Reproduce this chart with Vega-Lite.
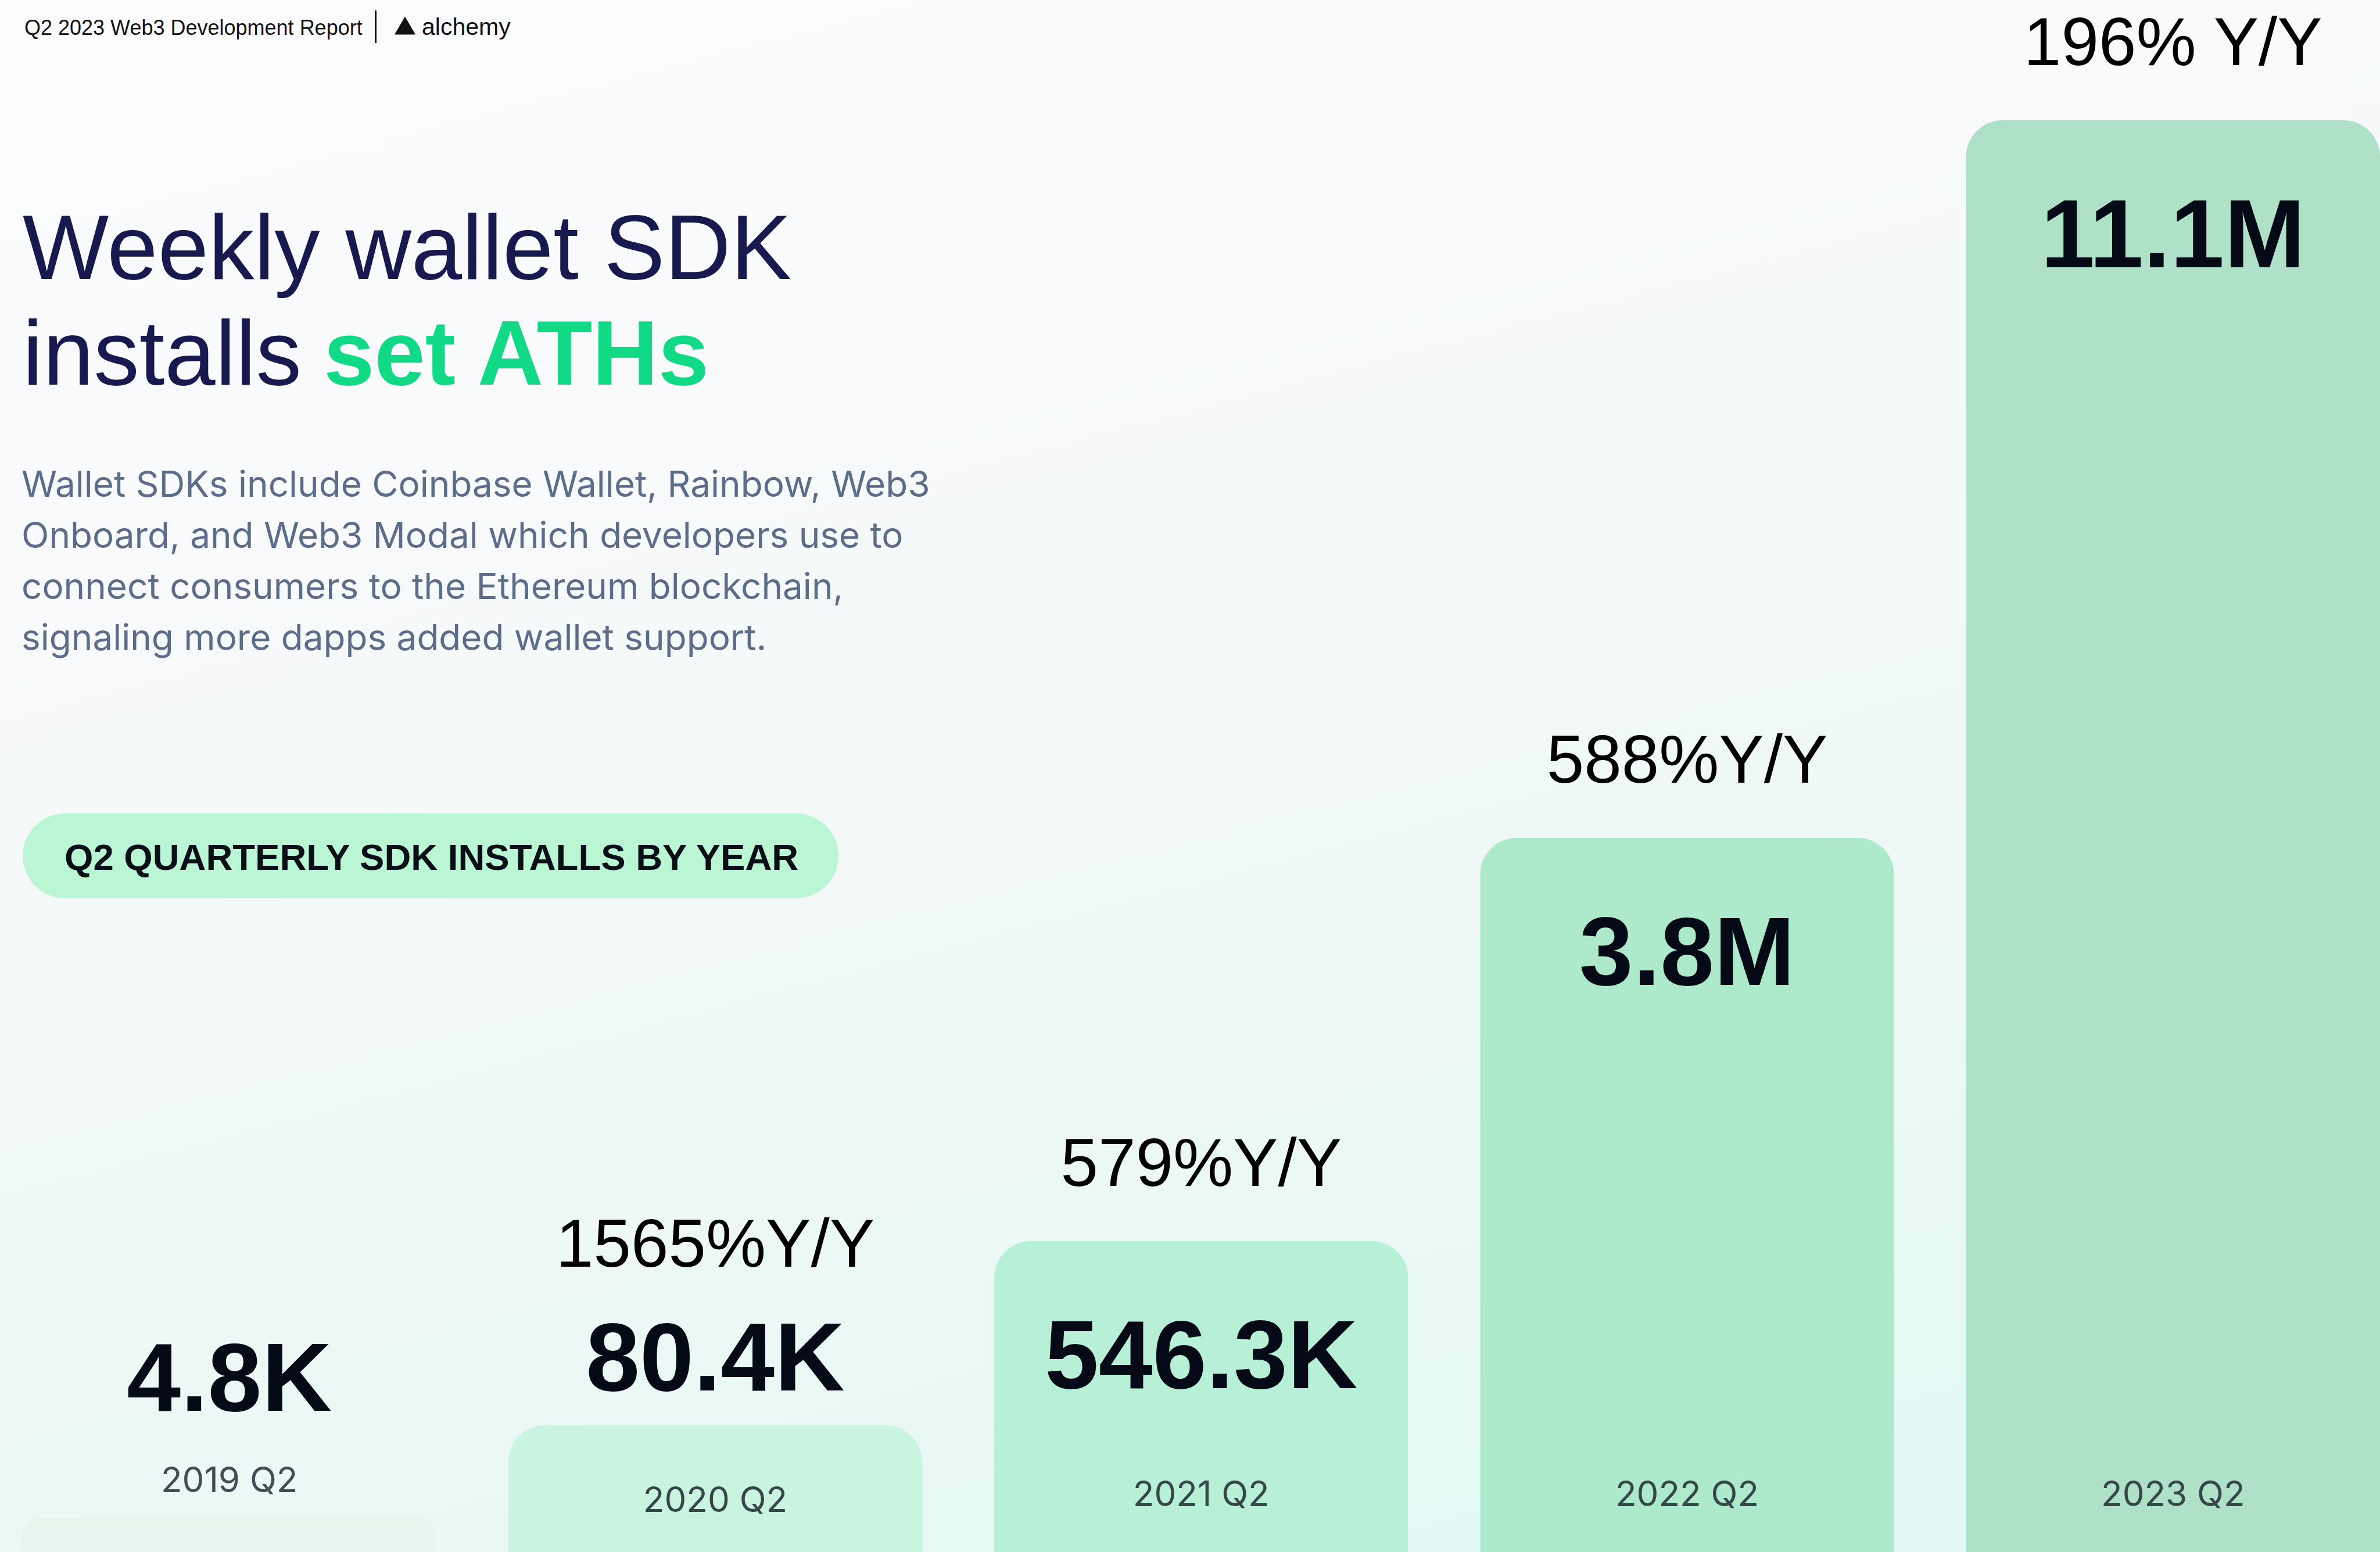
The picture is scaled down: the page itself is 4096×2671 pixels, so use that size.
{
  "$schema": "https://vega.github.io/schema/vega-lite/v6.json",
  "autosize": {"type": "fit", "contains": "padding"},
  "width": 4096,
  "height": 2671,
  "padding": 0,
  "background": "#F8FAFB",
  "config": {"view": {"stroke": null}},
  "data": {"values": [
    {"period": "2019 Q2", "installs": 4800, "label": "4.8K", "yoy": null},
    {"period": "2020 Q2", "installs": 80400, "label": "80.4K", "yoy": "1565%Y/Y"},
    {"period": "2021 Q2", "installs": 546300, "label": "546.3K", "yoy": "579%Y/Y"},
    {"period": "2022 Q2", "installs": 3800000, "label": "3.8M", "yoy": "588%Y/Y"},
    {"period": "2023 Q2", "installs": 11100000, "label": "11.1M", "yoy": "196% Y/Y"}
  ]},
  "layer": [
    {
      "data": {"values": [{}]},
      "mark": {"type": "rect", "color": {"gradient": "linear", "x1": 0.2, "y1": 0, "x2": 0.6, "y2": 1, "stops": [
        {"offset": 0, "color": "#FAFBFD"},
        {"offset": 0.3, "color": "#F7F9FA"},
        {"offset": 0.7, "color": "#EEF8F6"},
        {"offset": 1, "color": "#E3F8F4"}
      ]}},
      "encoding": {}
    },
    {
      "mark": {"type": "bar", "cornerRadiusTopLeft": 63, "cornerRadiusTopRight": 63},
      "encoding": {
        "x": {"field": "period", "type": "nominal", "sort": null,
              "scale": {"paddingInner": 0.148, "paddingOuter": 0.023, "align": 1}, "axis": null},
        "y": {"field": "installs", "type": "quantitative",
              "scale": {"type": "linear", "domain": [0, 4800, 80400, 546300, 3800000, 11100000],
                        "range": [2671, 2612, 2453, 2136, 1442, 207], "nice": false, "zero": false}, "axis": null},
        "color": {"field": "period", "type": "nominal",
                  "scale": {"domain": ["2019 Q2", "2020 Q2", "2021 Q2", "2022 Q2", "2023 Q2"],
                            "range": ["#E4F6EE", "#C9F5E0", "#B7F0D6", "#ADE9CB", "#AEE1C8"]}, "legend": null}
      }
    },
    {
      "transform": [{"filter": "datum.installs >= 500000"}],
      "mark": {"type": "text", "dy": 253, "baseline": "alphabetic", "align": "center", "font": "Liberation Sans", "fontSize": 167, "fontWeight": "bold", "color": "#060A16"},
      "encoding": {"x": {"field": "period", "type": "nominal"}, "y": {"field": "installs", "type": "quantitative"}, "text": {"field": "label"}}
    },
    {
      "transform": [{"filter": "datum.period == '2020 Q2'"}],
      "mark": {"type": "text", "dy": -60, "baseline": "alphabetic", "align": "center", "font": "Liberation Sans", "fontSize": 167, "fontWeight": "bold", "color": "#060A16"},
      "encoding": {"x": {"field": "period", "type": "nominal"}, "y": {"field": "installs", "type": "quantitative"}, "text": {"field": "label"}}
    },
    {
      "transform": [{"filter": "datum.period == '2019 Q2'"}],
      "mark": {"type": "text", "dy": -184, "baseline": "alphabetic", "align": "center", "font": "Liberation Sans", "fontSize": 167, "fontWeight": "bold", "color": "#060A16"},
      "encoding": {"x": {"field": "period", "type": "nominal"}, "y": {"field": "installs", "type": "quantitative"}, "text": {"field": "label"}}
    },
    {
      "transform": [{"filter": "datum.installs >= 500000"}],
      "mark": {"type": "text", "dy": -95, "baseline": "alphabetic", "align": "center", "font": "Liberation Sans", "fontSize": 116, "color": "#000000"},
      "encoding": {"x": {"field": "period", "type": "nominal"}, "y": {"field": "installs", "type": "quantitative"}, "text": {"field": "yoy"}}
    },
    {
      "transform": [{"filter": "datum.period == '2020 Q2'"}],
      "mark": {"type": "text", "dy": -273, "baseline": "alphabetic", "align": "center", "font": "Liberation Sans", "fontSize": 116, "color": "#000000"},
      "encoding": {"x": {"field": "period", "type": "nominal"}, "y": {"field": "installs", "type": "quantitative"}, "text": {"field": "yoy"}}
    },
    {
      "transform": [{"filter": "datum.installs >= 500000"}],
      "mark": {"type": "text", "dy": -79, "baseline": "alphabetic", "align": "center", "font": "Inter", "fontSize": 60, "color": "#36474A"},
      "encoding": {"x": {"field": "period", "type": "nominal"}, "y": {"datum": 0, "type": "quantitative"}, "text": {"field": "period"}}
    },
    {
      "transform": [{"filter": "datum.period == '2020 Q2'"}],
      "mark": {"type": "text", "dy": -69, "baseline": "alphabetic", "align": "center", "font": "Inter", "fontSize": 60, "color": "#36474A"},
      "encoding": {"x": {"field": "period", "type": "nominal"}, "y": {"datum": 0, "type": "quantitative"}, "text": {"field": "period"}}
    },
    {
      "transform": [{"filter": "datum.period == '2019 Q2'"}],
      "mark": {"type": "text", "dy": -103, "baseline": "alphabetic", "align": "center", "font": "Inter", "fontSize": 60, "color": "#454C55"},
      "encoding": {"x": {"field": "period", "type": "nominal"}, "y": {"datum": 0, "type": "quantitative"}, "text": {"field": "period"}}
    },
    {
      "data": {"values": [{}]},
      "mark": {"type": "rect", "x": 39, "x2": 1443, "y": 1400, "y2": 1546, "cornerRadius": 73, "color": "#BAF6D3"},
      "encoding": {}
    },
    {
      "data": {"values": [{}]},
      "mark": {"type": "text", "x": 111, "y": 1497, "align": "left", "baseline": "alphabetic", "font": "Liberation Sans", "fontSize": 63.5, "fontWeight": "bold", "color": "#0A0E17", "text": "Q2 QUARTERLY SDK INSTALLS BY YEAR"},
      "encoding": {}
    },
    {
      "data": {"values": [{}]},
      "mark": {"type": "text", "x": 42, "y": 60, "align": "left", "baseline": "alphabetic", "font": "Liberation Sans", "fontSize": 36, "color": "#111111", "text": "Q2 2023 Web3 Development Report"},
      "encoding": {}
    },
    {
      "data": {"values": [{}]},
      "mark": {"type": "rect", "x": 645, "x2": 648, "y": 18, "y2": 74, "color": "#111111"},
      "encoding": {}
    },
    {
      "data": {"values": [{}]},
      "mark": {"type": "point", "shape": "triangle-up", "x": 697, "y": 44, "size": 1300, "filled": true, "color": "#111111", "opacity": 1},
      "encoding": {}
    },
    {
      "data": {"values": [{}]},
      "mark": {"type": "text", "x": 726, "y": 60, "align": "left", "baseline": "alphabetic", "font": "Liberation Sans", "fontSize": 41, "color": "#111111", "text": "alchemy"},
      "encoding": {}
    },
    {
      "data": {"values": [{}]},
      "mark": {"type": "text", "x": 39, "y": 480, "align": "left", "baseline": "alphabetic", "font": "Liberation Sans", "fontSize": 157, "color": "#17194F", "text": "Weekly wallet SDK"},
      "encoding": {}
    },
    {
      "data": {"values": [{}]},
      "mark": {"type": "text", "x": 39, "y": 662, "align": "left", "baseline": "alphabetic", "font": "Liberation Sans", "fontSize": 157, "color": "#17194F", "text": "installs"},
      "encoding": {}
    },
    {
      "data": {"values": [{}]},
      "mark": {"type": "text", "x": 557, "y": 662, "align": "left", "baseline": "alphabetic", "font": "Liberation Sans", "fontSize": 157, "fontWeight": "bold", "color": "#12D985", "text": "set ATHs"},
      "encoding": {}
    },
    {
      "data": {"values": [{}]},
      "mark": {"type": "text", "x": 37, "y": 855, "align": "left", "baseline": "alphabetic", "lineHeight": 88, "font": "Inter", "fontSize": 62, "color": "#5D6D89",
               "text": ["Wallet SDKs include Coinbase Wallet, Rainbow, Web3", "Onboard, and Web3 Modal which developers use to", "connect consumers to the Ethereum blockchain,", "signaling more dapps added wallet support."]},
      "encoding": {}
    }
  ]
}
